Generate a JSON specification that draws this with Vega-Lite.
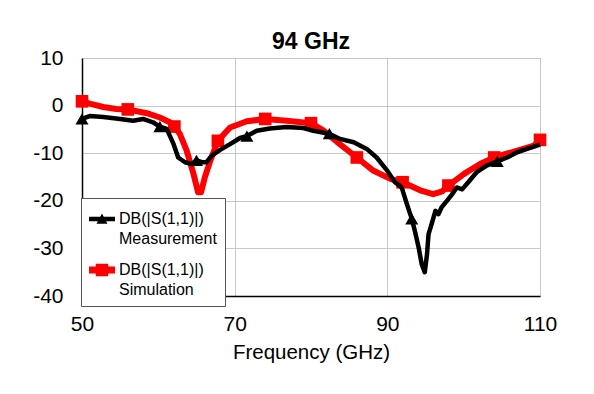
{
  "$schema": "https://vega.github.io/schema/vega-lite/v6.json",
  "width": 458,
  "height": 238,
  "autosize": {"type": "none"},
  "padding": {"left": 82, "top": 58, "right": 54, "bottom": 98},
  "background": "white",
  "title": {"text": "94 GHz", "fontSize": 23, "font": "Liberation Sans", "fontWeight": "bold", "color": "black", "offset": -7, "anchor": "middle"},
  "data": {"values": [
    {"s": "Simulation", "f": 50, "db": 0.9, "m": 1},
    {"s": "Simulation", "f": 51, "db": 0.4, "m": 0},
    {"s": "Simulation", "f": 52.8, "db": -0.3, "m": 0},
    {"s": "Simulation", "f": 54.5, "db": -0.7, "m": 0},
    {"s": "Simulation", "f": 56, "db": -0.8, "m": 1},
    {"s": "Simulation", "f": 58.5, "db": -1.6, "m": 0},
    {"s": "Simulation", "f": 60.2, "db": -2.5, "m": 0},
    {"s": "Simulation", "f": 61.5, "db": -3.5, "m": 0},
    {"s": "Simulation", "f": 62.1, "db": -4.4, "m": 1},
    {"s": "Simulation", "f": 62.8, "db": -5.9, "m": 0},
    {"s": "Simulation", "f": 63.7, "db": -9.4, "m": 0},
    {"s": "Simulation", "f": 64.6, "db": -14.3, "m": 0},
    {"s": "Simulation", "f": 65.2, "db": -18.2, "m": 0},
    {"s": "Simulation", "f": 65.6, "db": -18.2, "m": 0},
    {"s": "Simulation", "f": 66.1, "db": -15.0, "m": 0},
    {"s": "Simulation", "f": 66.8, "db": -11.6, "m": 0},
    {"s": "Simulation", "f": 67.8, "db": -7.4, "m": 1},
    {"s": "Simulation", "f": 69.4, "db": -4.6, "m": 0},
    {"s": "Simulation", "f": 71.6, "db": -3.3, "m": 0},
    {"s": "Simulation", "f": 74, "db": -2.8, "m": 1},
    {"s": "Simulation", "f": 76.8, "db": -3.2, "m": 0},
    {"s": "Simulation", "f": 80, "db": -3.7, "m": 1},
    {"s": "Simulation", "f": 81.6, "db": -5.2, "m": 0},
    {"s": "Simulation", "f": 83.4, "db": -7.6, "m": 0},
    {"s": "Simulation", "f": 86, "db": -10.9, "m": 1},
    {"s": "Simulation", "f": 88.2, "db": -13.7, "m": 0},
    {"s": "Simulation", "f": 90.4, "db": -15.4, "m": 0},
    {"s": "Simulation", "f": 92, "db": -16.1, "m": 1},
    {"s": "Simulation", "f": 94.3, "db": -17.8, "m": 0},
    {"s": "Simulation", "f": 96, "db": -18.6, "m": 0},
    {"s": "Simulation", "f": 97.2, "db": -18.0, "m": 0},
    {"s": "Simulation", "f": 98, "db": -16.8, "m": 1},
    {"s": "Simulation", "f": 100, "db": -14.4, "m": 0},
    {"s": "Simulation", "f": 102.2, "db": -12.2, "m": 0},
    {"s": "Simulation", "f": 104, "db": -10.9, "m": 1},
    {"s": "Simulation", "f": 106.5, "db": -9.7, "m": 0},
    {"s": "Simulation", "f": 109.2, "db": -8.4, "m": 0},
    {"s": "Simulation", "f": 110, "db": -7.2, "m": 1},
    {"s": "Measurement", "f": 50, "db": -2.8, "m": 1},
    {"s": "Measurement", "f": 51, "db": -2.2, "m": 0},
    {"s": "Measurement", "f": 52.8, "db": -2.4, "m": 0},
    {"s": "Measurement", "f": 55, "db": -2.8, "m": 0},
    {"s": "Measurement", "f": 56.7, "db": -3.2, "m": 0},
    {"s": "Measurement", "f": 58, "db": -2.8, "m": 0},
    {"s": "Measurement", "f": 59.3, "db": -3.5, "m": 0},
    {"s": "Measurement", "f": 60.2, "db": -4.4, "m": 1},
    {"s": "Measurement", "f": 61.1, "db": -4.9, "m": 0},
    {"s": "Measurement", "f": 62, "db": -8.1, "m": 0},
    {"s": "Measurement", "f": 62.6, "db": -10.9, "m": 0},
    {"s": "Measurement", "f": 63.5, "db": -11.9, "m": 0},
    {"s": "Measurement", "f": 64.4, "db": -12.3, "m": 0},
    {"s": "Measurement", "f": 65, "db": -11.5, "m": 1},
    {"s": "Measurement", "f": 65.7, "db": -11.9, "m": 0},
    {"s": "Measurement", "f": 66.3, "db": -11.9, "m": 0},
    {"s": "Measurement", "f": 67, "db": -10.5, "m": 0},
    {"s": "Measurement", "f": 68.1, "db": -9.3, "m": 0},
    {"s": "Measurement", "f": 69.4, "db": -8.1, "m": 0},
    {"s": "Measurement", "f": 70.7, "db": -6.8, "m": 0},
    {"s": "Measurement", "f": 71.6, "db": -6.4, "m": 1},
    {"s": "Measurement", "f": 72.9, "db": -5.3, "m": 0},
    {"s": "Measurement", "f": 74.6, "db": -4.8, "m": 0},
    {"s": "Measurement", "f": 76.8, "db": -4.5, "m": 0},
    {"s": "Measurement", "f": 79, "db": -4.7, "m": 0},
    {"s": "Measurement", "f": 80.3, "db": -5.3, "m": 0},
    {"s": "Measurement", "f": 82.4, "db": -5.9, "m": 1},
    {"s": "Measurement", "f": 83.8, "db": -7.0, "m": 0},
    {"s": "Measurement", "f": 85.6, "db": -7.7, "m": 0},
    {"s": "Measurement", "f": 87.3, "db": -9.1, "m": 0},
    {"s": "Measurement", "f": 88.6, "db": -10.9, "m": 0},
    {"s": "Measurement", "f": 89.9, "db": -13.5, "m": 0},
    {"s": "Measurement", "f": 91, "db": -16.1, "m": 0},
    {"s": "Measurement", "f": 91.6, "db": -16.8, "m": 0},
    {"s": "Measurement", "f": 91.9, "db": -17.3, "m": 0},
    {"s": "Measurement", "f": 92.5, "db": -20.4, "m": 0},
    {"s": "Measurement", "f": 93.2, "db": -23.8, "m": 1},
    {"s": "Measurement", "f": 93.6, "db": -26.3, "m": 0},
    {"s": "Measurement", "f": 94.1, "db": -29.8, "m": 0},
    {"s": "Measurement", "f": 94.5, "db": -33.3, "m": 0},
    {"s": "Measurement", "f": 94.9, "db": -35.0, "m": 0},
    {"s": "Measurement", "f": 95.2, "db": -31.2, "m": 0},
    {"s": "Measurement", "f": 95.4, "db": -27.0, "m": 0},
    {"s": "Measurement", "f": 95.8, "db": -24.9, "m": 0},
    {"s": "Measurement", "f": 96.3, "db": -22.1, "m": 0},
    {"s": "Measurement", "f": 96.7, "db": -22.8, "m": 0},
    {"s": "Measurement", "f": 97.1, "db": -21.4, "m": 0},
    {"s": "Measurement", "f": 97.8, "db": -20.0, "m": 0},
    {"s": "Measurement", "f": 98.4, "db": -18.8, "m": 0},
    {"s": "Measurement", "f": 99.1, "db": -17.2, "m": 0},
    {"s": "Measurement", "f": 99.8, "db": -17.6, "m": 0},
    {"s": "Measurement", "f": 100.6, "db": -16.1, "m": 0},
    {"s": "Measurement", "f": 101.7, "db": -14.0, "m": 0},
    {"s": "Measurement", "f": 103, "db": -12.6, "m": 0},
    {"s": "Measurement", "f": 104.4, "db": -11.7, "m": 1},
    {"s": "Measurement", "f": 105.7, "db": -10.9, "m": 0},
    {"s": "Measurement", "f": 107, "db": -9.8, "m": 0},
    {"s": "Measurement", "f": 108.3, "db": -9.1, "m": 0},
    {"s": "Measurement", "f": 110, "db": -8.2, "m": 0}
  ]},
  "encoding": {
    "x": {"field": "f", "type": "quantitative", "scale": {"domain": [50, 110], "nice": false, "zero": false},
      "axis": {"title": "Frequency (GHz)", "values": [50, 70, 90, 110], "ticks": false, "labelPadding": 17, "titlePadding": 8, "labelFontSize": 21, "titleFontSize": 20.5, "titleFontWeight": "normal", "labelFlush": false}},
    "y": {"field": "db", "type": "quantitative", "scale": {"domain": [-40, 10], "nice": false, "zero": false},
      "axis": {"title": null, "values": [-40, -30, -20, -10, 0, 10], "ticks": false, "labelPadding": 19, "labelFontSize": 21, "labelExpr": "'' + datum.value"}},
    "color": {"field": "s", "type": "nominal",
      "scale": {"domain": ["Measurement", "Simulation"], "range": ["black", "#ff0000"]},
      "legend": {"title": null, "orient": "none", "legendX": -1, "legendY": 140, "fillColor": "white", "strokeColor": "#555", "padding": 8,
        "labelFont": "Liberation Sans", "labelFontSize": 16, "labelColor": "black", "labelLimit": 200, "symbolSize": 676,
        "labelExpr": "['DB(|S(1,1)|)', datum.label]", "labelBaseline": "top", "labelOffset": 4, "rowPadding": 10,
        "encode": {
          "symbols": {"update": {
            "shape": {"signal": "datum.value == 'Measurement' ? 'M-1,-0.18H1V0.18H-1Z M-0.42,0.36L0,-0.42L0.42,0.36Z' : 'M-1,-0.27H1V0.27H-1Z M-0.48,-0.48H0.48V0.48H-0.48Z'"},
            "fill": {"signal": "datum.value == 'Measurement' ? 'black' : '#ff0000'"},
            "stroke": {"value": "transparent"},
            "strokeWidth": {"value": 0},
            "opacity": {"value": 1}
          }},
          "labels": {"update": {"dy": {"value": -8}, "lineHeight": {"value": 20}}}
        }
      }
    }
  },
  "layer": [
    {"transform": [{"filter": "datum.s == 'Simulation'"}], "mark": {"type": "line", "strokeWidth": 6, "strokeJoin": "round"}},
    {"transform": [{"filter": "datum.s == 'Simulation' && datum.m == 1"}], "mark": {"type": "point", "shape": "square", "filled": true, "opacity": 1, "size": 160}},
    {"transform": [{"filter": "datum.s == 'Measurement'"}], "mark": {"type": "line", "strokeWidth": 4.5, "strokeJoin": "round"}},
    {"transform": [{"filter": "datum.s == 'Measurement' && datum.m == 1"}], "mark": {"type": "point", "shape": "triangle-up", "filled": true, "opacity": 1, "size": 170}}
  ],
  "config": {
    "font": "Liberation Sans",
    "view": {"stroke": "#999", "strokeWidth": 1},
    "axis": {"labelColor": "black", "titleColor": "black", "labelFont": "Liberation Sans", "titleFont": "Liberation Sans", "domainColor": "black", "domainWidth": 1.5, "grid": true, "gridColor": "#c8c8c8", "gridWidth": 1}
  }
}
